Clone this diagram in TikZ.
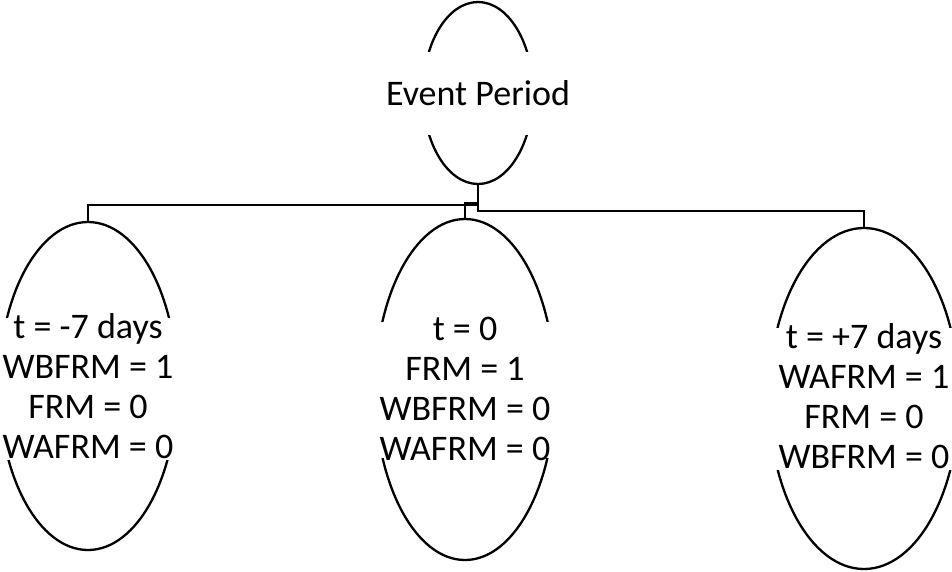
\documentclass[tikz,border=0pt]{standalone}
\usepackage{fontspec}
\setmainfont{Carlito}
\usetikzlibrary{shapes.geometric}
\begin{document}
\begin{tikzpicture}[x=1pt,y=-1pt,
  oval/.style={draw=black, line width=2.3pt, ellipse, inner sep=0pt},
  band/.style={fill=white, draw=none, inner sep=0pt},
  txt/.style={font=\fontsize{36}{40}\selectfont, align=center, inner sep=0pt, anchor=north},
  conn/.style={draw=black, line width=2.2pt}]
\useasboundingbox (0,0) rectangle (952,571);
% ellipses
\node[oval, minimum width=110pt, minimum height=182pt] (ev) at (478,93) {};
\node[oval, minimum width=178pt, minimum height=328pt] (L) at (88,386) {};
\node[oval, minimum width=180pt, minimum height=341pt] (M) at (465,389.5) {};
\node[oval, minimum width=190pt, minimum height=341pt] (R) at (864,398.5) {};
% white bands behind texts
\node[band, minimum width=130pt, minimum height=83pt] (evb) at (478,93.5) {};
\node[band, minimum width=200pt, minimum height=142pt] (Lb) at (88,389) {};
\node[band, minimum width=200pt, minimum height=136pt] (Mb) at (465,390) {};
\node[band, minimum width=210pt, minimum height=142pt] (Rb) at (864,399) {};
% texts
\node[txt] (evt) at (478,77) {\strut Event Period};
\node[txt] (Lt) at (88,310) {\strut t = -7 days\\WBFRM = 1\\FRM = 0\\WAFRM = 0};
\node[txt] (Mt) at (465,312) {\strut t = 0\\FRM = 1\\WBFRM = 0\\WAFRM = 0};
\node[txt] (Rt) at (864,320) {\strut t = +7 days\\WAFRM = 1\\FRM = 0\\WBFRM = 0};
% connectors
\draw[conn] (ev.south) -- ++(0,20) -| (L.north);
\draw[conn] (ev.south) -- ++(0,18) -| (M.north);
\draw[conn] (ev.south) -- ++(0,26) -| (R.north);
\end{tikzpicture}
\end{document}
